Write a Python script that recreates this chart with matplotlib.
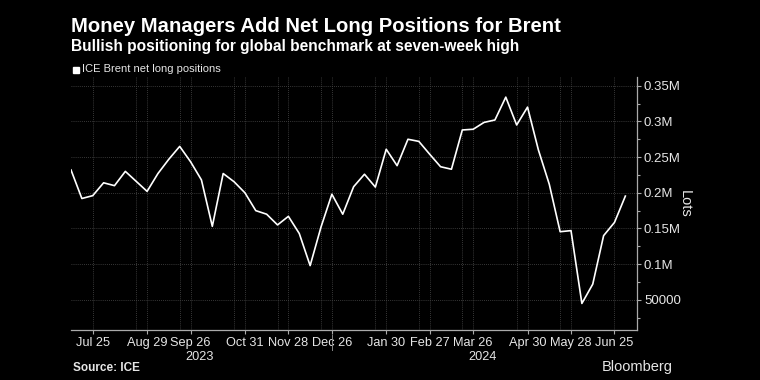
import matplotlib
matplotlib.use("Agg")
import matplotlib.pyplot as plt
from matplotlib.ticker import FixedLocator, FuncFormatter
import pandas as pd

plt.rcParams["font.family"] = ["Liberation Sans", "DejaVu Sans"]

# weekly data, Tuesdays
dates = pd.date_range("2023-07-11", periods=52, freq="7D")
net_long = [
    232000, 192000, 196000, 214000, 210000, 230000, 216000, 202000, 227000, 247000,
    265000, 243500, 218000, 153000, 227000, 215500, 200000, 175000, 170000, 155000,
    167000, 143000, 98000, 152000, 198000, 170000, 208500, 226000, 208000, 261000,
    238000, 275000, 272000, 254000, 236500, 233000, 288000, 289000, 298600, 302000,
    334000, 295000, 320000, 260000, 212000, 145500, 147000, 45000, 72000, 140000,
    158500, 195400,
]
tick_dates = pd.to_datetime([
    "2023-07-25", "2023-08-29", "2023-09-26", "2023-10-31", "2023-11-28", "2023-12-26",
    "2024-01-30", "2024-02-27", "2024-03-26", "2024-04-30", "2024-05-28", "2024-06-25",
])
tick_labels = ["Jul 25", "Aug 29", "Sep 26", "Oct 31", "Nov 28", "Dec 26",
               "Jan 30", "Feb 27", "Mar 26", "Apr 30", "May 28", "Jun 25"]
y_ticks = [50000, 100000, 150000, 200000, 250000, 300000, 350000]

BG = "black"
GRID = "#4a4a4a"
TXT = "#e6e6e6"

fig = plt.figure(figsize=(7.6, 3.8), dpi=100, facecolor=BG)
ax = fig.add_axes([71 / 760, 50 / 380, 566 / 760, 253 / 380], facecolor=BG)

ax.plot(dates, net_long, color="white", lw=1.2, zorder=3)

x0 = pd.Timestamp("2023-07-11")
ax.set_xlim(x0, x0 + pd.Timedelta(days=364.5))
ax.set_ylim(7800, 362200)

# y axis on the right
ax.yaxis.tick_right()
ax.yaxis.set_label_position("right")
ax.yaxis.set_major_locator(FixedLocator(y_ticks))
ax.yaxis.set_minor_locator(FixedLocator([v - 25000 for v in y_ticks] + [375000]))


def fmt(v, pos):
    if v >= 100000:
        return f"{v / 1e6:g}M"
    return f"{v:.0f}"


ax.yaxis.set_major_formatter(FuncFormatter(fmt))
ax.tick_params(axis="y", which="major", length=3, width=0.8, color="#aaaaaa",
               labelcolor=TXT, labelsize=9.5, pad=2)
ax.tick_params(axis="y", which="minor", length=2, width=0.8, color="#aaaaaa")
ax.set_ylabel("Lots", color=TXT, fontsize=10.5, rotation=270, labelpad=8)

# x axis
ax.set_xticks(tick_dates)
ax.set_xticklabels(tick_labels)
ax.tick_params(axis="x", length=3, width=0.8, color="#aaaaaa", labelcolor=TXT,
               labelsize=9.2, pad=2)

# grid
for v in y_ticks:
    ax.axhline(v, color=GRID, lw=0.6, ls=(0, (1, 1.5)), zorder=1)
grid_dates = list(tick_dates) + [d - pd.Timedelta(days=7) for d in tick_dates[1:-1]]
for d in grid_dates:
    ax.axvline(d, color=GRID, lw=0.6, ls=(0, (1, 1.5)), zorder=1)

for side in ["top", "left"]:
    ax.spines[side].set_visible(False)
for side in ["bottom", "right"]:
    ax.spines[side].set_color("#aaaaaa")
    ax.spines[side].set_linewidth(0.9)

# year labels and separator
xt = ax.get_xaxis_transform()
ax.text(pd.Timestamp("2023-10-02"), -0.105, "2023", transform=xt, ha="center", va="center",
        color=TXT, fontsize=9.2)
ax.text(pd.Timestamp("2024-04-01"), -0.105, "2024", transform=xt, ha="center", va="center",
        color=TXT, fontsize=9.2)
ax.plot([pd.Timestamp("2023-12-26")] * 2, [-0.02, -0.08], transform=xt, color="#888888",
        lw=0.7, clip_on=False)

# titles
fig.text(71 / 760, 1 - 27 / 380, "Money Managers Add Net Long Positions for Brent",
         color="white", fontsize=14.6, fontweight="bold", ha="left", va="center")
fig.text(71 / 760, 1 - 47 / 380, "Bullish positioning for global benchmark at seven-week high",
         color="white", fontsize=11.2, fontweight="bold", ha="left", va="center")

# legend
fig.patches.append(plt.Rectangle((73 / 760, 1 - 73 / 380), 6 / 760, 6 / 380,
                                 transform=fig.transFigure, color="white"))
fig.text(82 / 760, 1 - 69.5 / 380, "ICE Brent net long positions", color=TXT,
         fontsize=8, ha="left", va="center")

# footer
fig.text(73 / 760, 1 - 368 / 380, "Source: ICE", color=TXT, fontsize=8.5,
         fontweight="bold", ha="left", va="center")
fig.text(673 / 760, 1 - 367 / 380, "Bloomberg", color=TXT, fontsize=10.5,
         ha="right", va="center")

fig.savefig("out.png", dpi=100, facecolor=BG)
